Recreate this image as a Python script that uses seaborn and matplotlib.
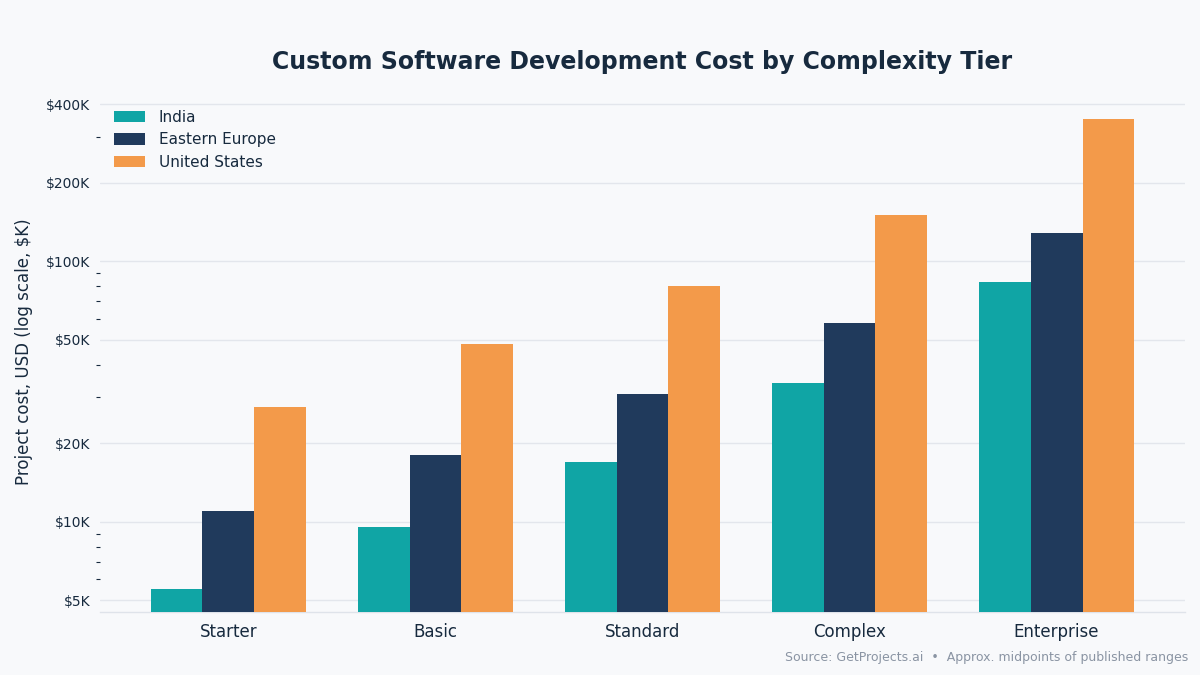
import matplotlib
matplotlib.use("Agg")
import matplotlib.pyplot as plt
import matplotlib.ticker as mticker
import seaborn as sns
import pandas as pd

tiers = ["Starter", "Basic", "Standard", "Complex", "Enterprise"]
regions = ["India", "Eastern Europe", "United States"]
india = [5500, 9500, 17000, 34000, 83000]
eastern_europe = [11000, 18000, 31000, 58000, 128000]
united_states = [27500, 48000, 80000, 150000, 350000]
ytick_vals = [5000, 10000, 20000, 50000, 100000, 200000, 400000]
ytick_labels = ["$5K", "$10K", "$20K", "$50K", "$100K", "$200K", "$400K"]

colors = ["#10a5a5", "#203a5c", "#f39a4a"]
bg = "#f8f9fb"
text_dark = "#172a3e"

rows = []
for reg, vals in zip(regions, [india, eastern_europe, united_states]):
    for t, v in zip(tiers, vals):
        rows.append({"tier": t, "region": reg, "cost": v})
df = pd.DataFrame(rows)

sns.set_theme(style="white")
plt.rcParams["font.family"] = ["DejaVu Sans"]

fig = plt.figure(figsize=(12, 6.75), dpi=100, facecolor=bg)
ax = fig.add_axes([0.0833, 0.0933, 0.9042, 0.772])
ax.set_facecolor(bg)

sns.barplot(data=df, x="tier", y="cost", hue="region", order=tiers,
            hue_order=regions, palette=colors, width=0.75, saturation=1,
            edgecolor="none", linewidth=0, ax=ax, zorder=3)
ax.set_yscale("log")
ax.set_ylim(4500, 450000)
ax.set_xlim(-0.62, 4.62)
ax.yaxis.set_major_locator(mticker.FixedLocator(ytick_vals))
ax.yaxis.set_major_formatter(mticker.FixedFormatter(ytick_labels))
ax.yaxis.set_minor_locator(mticker.LogLocator(base=10, subs=range(2, 10)))
ax.yaxis.set_minor_formatter(mticker.NullFormatter())
ax.tick_params(axis="y", which="major", length=0, labelsize=10, colors=text_dark, pad=7)
ax.tick_params(axis="y", which="minor", length=3, width=0.8, color=text_dark, left=True)
ax.tick_params(axis="x", length=0, labelsize=12, colors=text_dark, pad=8)
ax.grid(True, axis="y", which="major", color="#e3e6ec", linewidth=1, zorder=0)
ax.set_axisbelow(True)
for s in ["top", "right", "left"]:
    ax.spines[s].set_visible(False)
ax.spines["bottom"].set_color("#dfe3ea")
ax.spines["bottom"].set_linewidth(1)

ax.set_xlabel("")
ax.set_ylabel("Project cost, USD (log scale, $K)", fontsize=12, color=text_dark, labelpad=9)
ax.set_title("Custom Software Development Cost by Complexity Tier",
             fontsize=17, fontweight="bold", color=text_dark, pad=16)

leg = ax.legend(loc="upper left", bbox_to_anchor=(0.0, 0.992), frameon=False,
                fontsize=11, handlelength=2.0, handleheight=0.75,
                borderaxespad=0.55, labelspacing=0.5, handletextpad=0.9)
for t in leg.get_texts():
    t.set_color(text_dark)

fig.text(0.99, 0.021, "Source: GetProjects.ai  \u2022  Approx. midpoints of published ranges",
         ha="right", va="baseline", fontsize=9, color="#8a94a3")

fig.savefig("out.png", dpi=100, facecolor=bg)
